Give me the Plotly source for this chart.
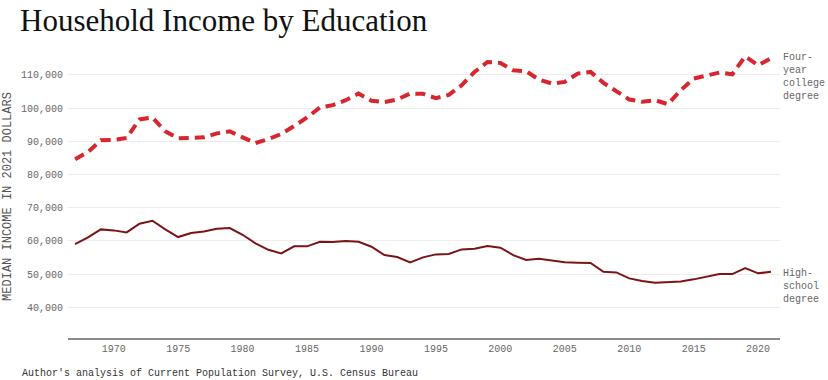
import plotly.graph_objects as go

years = list(range(1967, 2022))

college = [84600, 86800, 90300, 90400, 91000, 96600, 97200, 93000, 90900, 91000,
           91200, 92400, 93000, 91200, 89500, 90700, 92200, 94600, 97200, 100200,
           100900, 102400, 104400, 102200, 101800, 102600, 104400, 104300, 103000, 104000,
           106900, 110900, 113900, 113600, 111400, 111100, 108600, 107400, 107900, 110400,
           110900, 107600, 105200, 102600, 101900, 102400, 101200, 105400, 108900, 109900,
           110700, 110200, 115600, 112900, 115000]

high_school = [59060, 61070, 63480, 63180, 62580, 65170, 66070, 63480, 61170, 62370,
               62870, 63660, 63870, 61860, 59260, 57340, 56260, 58370, 58370, 59750,
               59650, 59960, 59750, 58250, 55750, 55150, 53550, 55050, 55950, 56050,
               57460, 57660, 58460, 57960, 55750, 54250, 54640, 54040, 53550, 53450,
               53350, 50720, 50520, 48730, 47920, 47410, 47710, 47810, 48430, 49220,
               50030, 50030, 51840, 50240, 50720]

y_ticks = [40000, 50000, 60000, 70000, 80000, 90000, 100000, 110000]
x_ticks = [1970, 1975, 1980, 1985, 1990, 1995, 2000, 2005, 2010, 2015, 2020]

mono = "Liberation Mono"
grey = "#666666"

L, R, T, B = 68, 48, 55, 42
PW, PH = 828 - L - R, 380 - T - B

fig = go.Figure()
fig.add_trace(go.Scatter(x=years, y=college, mode="lines",
                         line=dict(color="#d7262f", width=4, dash="10px,6px"),
                         name="Four-year college degree", hoverinfo="x+y"))
fig.add_trace(go.Scatter(x=years, y=high_school, mode="lines",
                         line=dict(color="#7b1418", width=2),
                         name="High-school degree", hoverinfo="x+y"))

fig.update_layout(
    width=828, height=380,
    margin=dict(l=L, r=R, t=T, b=B, autoexpand=False),
    plot_bgcolor="white", paper_bgcolor="white",
    showlegend=False,
    xaxis=dict(range=[1966.45, 2021.7], tickvals=x_ticks,
               ticktext=[str(v) for v in x_ticks], automargin=False,
               showgrid=False, zeroline=False,
               showline=True, linecolor="#8a8a8a", linewidth=2,
               ticks="", tickfont=dict(family=mono, size=10, color=grey)),
    yaxis=dict(range=[30770, 116000], tickvals=y_ticks,
               ticktext=[f"{v:,}" for v in y_ticks], automargin=False,
               showgrid=True, gridcolor="#ececec", gridwidth=1,
               zeroline=False, showline=False, ticks="",
               ticklabelstandoff=4,
               tickfont=dict(family=mono, size=10, color=grey),
               title=dict(text="MEDIAN INCOME IN 2021 DOLLARS",
                          font=dict(family=mono, size=12, color="#555555"),
                          standoff=6)),
)

# title
fig.add_annotation(text="Household Income by Education", xref="paper", x=-L/PW, xshift=18,
                   xanchor="left", yref="paper", y=1 + (T - 20) / PH, yanchor="middle",
                   showarrow=False, font=dict(family="Liberation Serif", size=31, color="#111111"))

fig.add_annotation(text="Four-<br>year<br>college<br>degree", xref="paper", x=1, xanchor="left",
                   xshift=1, yref="y", y=109400, yanchor="middle", showarrow=False, align="left",
                   font=dict(family=mono, size=10, color=grey))
fig.add_annotation(text="High-<br>school<br>degree", xref="paper", x=1, xanchor="left",
                   xshift=1, yref="y", y=46400, yanchor="middle", showarrow=False, align="left",
                   font=dict(family=mono, size=10, color=grey))
fig.add_annotation(text="Author's analysis of Current Population Survey, U.S. Census Bureau",
                   xref="paper", x=-L/PW, xanchor="left", xshift=20,
                   yref="paper", y=-(373 - (380 - B)) / PH, yanchor="middle", showarrow=False, align="left",
                   font=dict(family=mono, size=10, color="#333333"))

fig.write_html("out.html", config={"displayModeBar": False},
               post_script="document.body.style.margin='0';document.body.style.padding='0';")
